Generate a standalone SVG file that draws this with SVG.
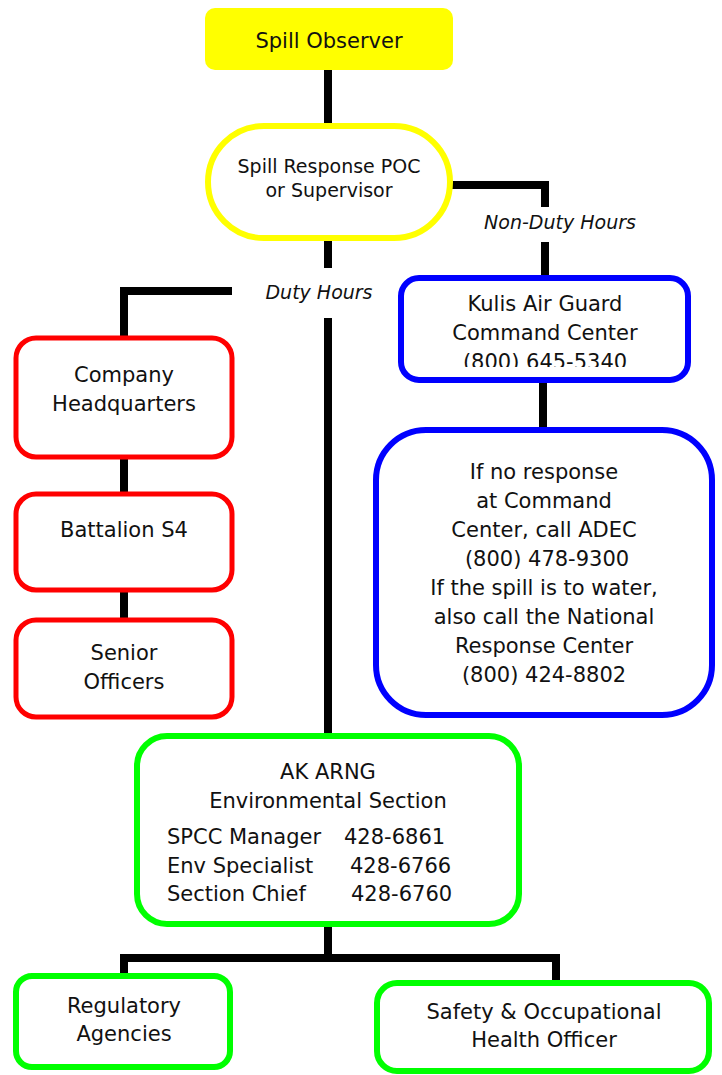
<svg xmlns="http://www.w3.org/2000/svg" width="722" height="1075" viewBox="0 0 722 1075">
<style>
.t{font-family:"DejaVu Sans",sans-serif;font-size:21px;fill:#111;text-anchor:middle}
.s{font-size:19px}
.l{text-anchor:start}
.i{font-style:italic;font-size:19px}
.c{fill:none;stroke:#000;stroke-width:8;stroke-linejoin:miter;stroke-linecap:butt}
.red{fill:#fff;stroke:#ff0000;stroke-width:5}
.blue{fill:#fff;stroke:#0000ff;stroke-width:6}
.green{fill:#fff;stroke:#00ff00;stroke-width:6}
</style>
<defs>
<clipPath id="kclip"><rect x="398" y="275" width="292" height="92"/></clipPath>
</defs>
<g id="connectors">
<path class="c" d="M328 70V124"/>
<path class="c" d="M452 185H545V207"/>
<path class="c" d="M545 242V277"/>
<path class="c" d="M328 240V268"/>
<path class="c" d="M232 291H124V337"/>
<path class="c" d="M328 318V734"/>
<path class="c" d="M124 458V493"/>
<path class="c" d="M124 592V619"/>
<path class="c" d="M543 382V429"/>
<path class="c" d="M328 927V958"/>
<path class="c" d="M124 976V958H556V982"/>
<text class="t i" x="319" y="299">Duty Hours</text>
<text class="t i" x="560" y="229">Non-Duty Hours</text>
</g>
<g id="spill-observer">
<rect x="205" y="8" width="248" height="62" rx="10" fill="#ffff00"/>
<text class="t" x="329" y="48">Spill Observer</text>
</g>
<g id="spill-response-poc">
<rect x="208" y="126" width="242" height="112" rx="56" fill="#fff" stroke="#ffff00" stroke-width="6"/>
<text class="t s" x="329" y="173">Spill Response POC</text>
<text class="t s" x="329" y="197">or Supervisor</text>
</g>
<g id="company-hq">
<rect x="16" y="338" width="216" height="119" rx="20" class="red"/>
<text class="t" x="124" y="382">Company</text>
<text class="t" x="124" y="411">Headquarters</text>
</g>
<g id="battalion-s4">
<rect x="16" y="494" width="216" height="96" rx="20" class="red"/>
<text class="t" x="124" y="537">Battalion S4</text>
</g>
<g id="senior-officers">
<rect x="16" y="620" width="216" height="97" rx="20" class="red"/>
<text class="t" x="124" y="660">Senior</text>
<text class="t" x="124" y="689">Officers</text>
</g>
<g id="kulis">
<rect x="401" y="278" width="287" height="102" rx="18" class="blue"/>
<g clip-path="url(#kclip)">
<text class="t" x="545" y="311">Kulis Air Guard</text>
<text class="t" x="545" y="340">Command Center</text>
<text class="t" x="545" y="369">(800) 645-5340</text>
</g>
</g>
<g id="adec">
<rect x="376" y="430" width="336" height="285" rx="50" class="blue"/>
<text class="t" x="544" y="479">If no response</text>
<text class="t" x="544" y="508">at Command</text>
<text class="t" x="544" y="537">Center, call ADEC</text>
<text class="t" x="547" y="566">(800) 478-9300</text>
<text class="t" x="544" y="595">If the spill is to water,</text>
<text class="t" x="544" y="624">also call the National</text>
<text class="t" x="544" y="653">Response Center</text>
<text class="t" x="544" y="682">(800) 424-8802</text>
</g>
<g id="ak-arng">
<rect x="137" y="736" width="382" height="188" rx="30" class="green"/>
<text class="t" x="328" y="779">AK ARNG</text>
<text class="t" x="328" y="808">Environmental Section</text>
<text class="t l" x="167" y="844">SPCC Manager</text>
<text class="t l" x="344" y="844">428-6861</text>
<text class="t l" x="167" y="873">Env Specialist</text>
<text class="t l" x="350" y="873">428-6766</text>
<text class="t l" x="167" y="901">Section Chief</text>
<text class="t l" x="351" y="901">428-6760</text>
</g>
<g id="regulatory">
<rect x="16" y="976" width="214" height="91" rx="16" class="green"/>
<text class="t" x="124" y="1013">Regulatory</text>
<text class="t" x="124" y="1041">Agencies</text>
</g>
<g id="safety">
<rect x="377" y="983" width="332" height="88" rx="20" class="green"/>
<text class="t" x="544" y="1019">Safety &amp; Occupational</text>
<text class="t" x="544" y="1047">Health Officer</text>
</g>
</svg>
